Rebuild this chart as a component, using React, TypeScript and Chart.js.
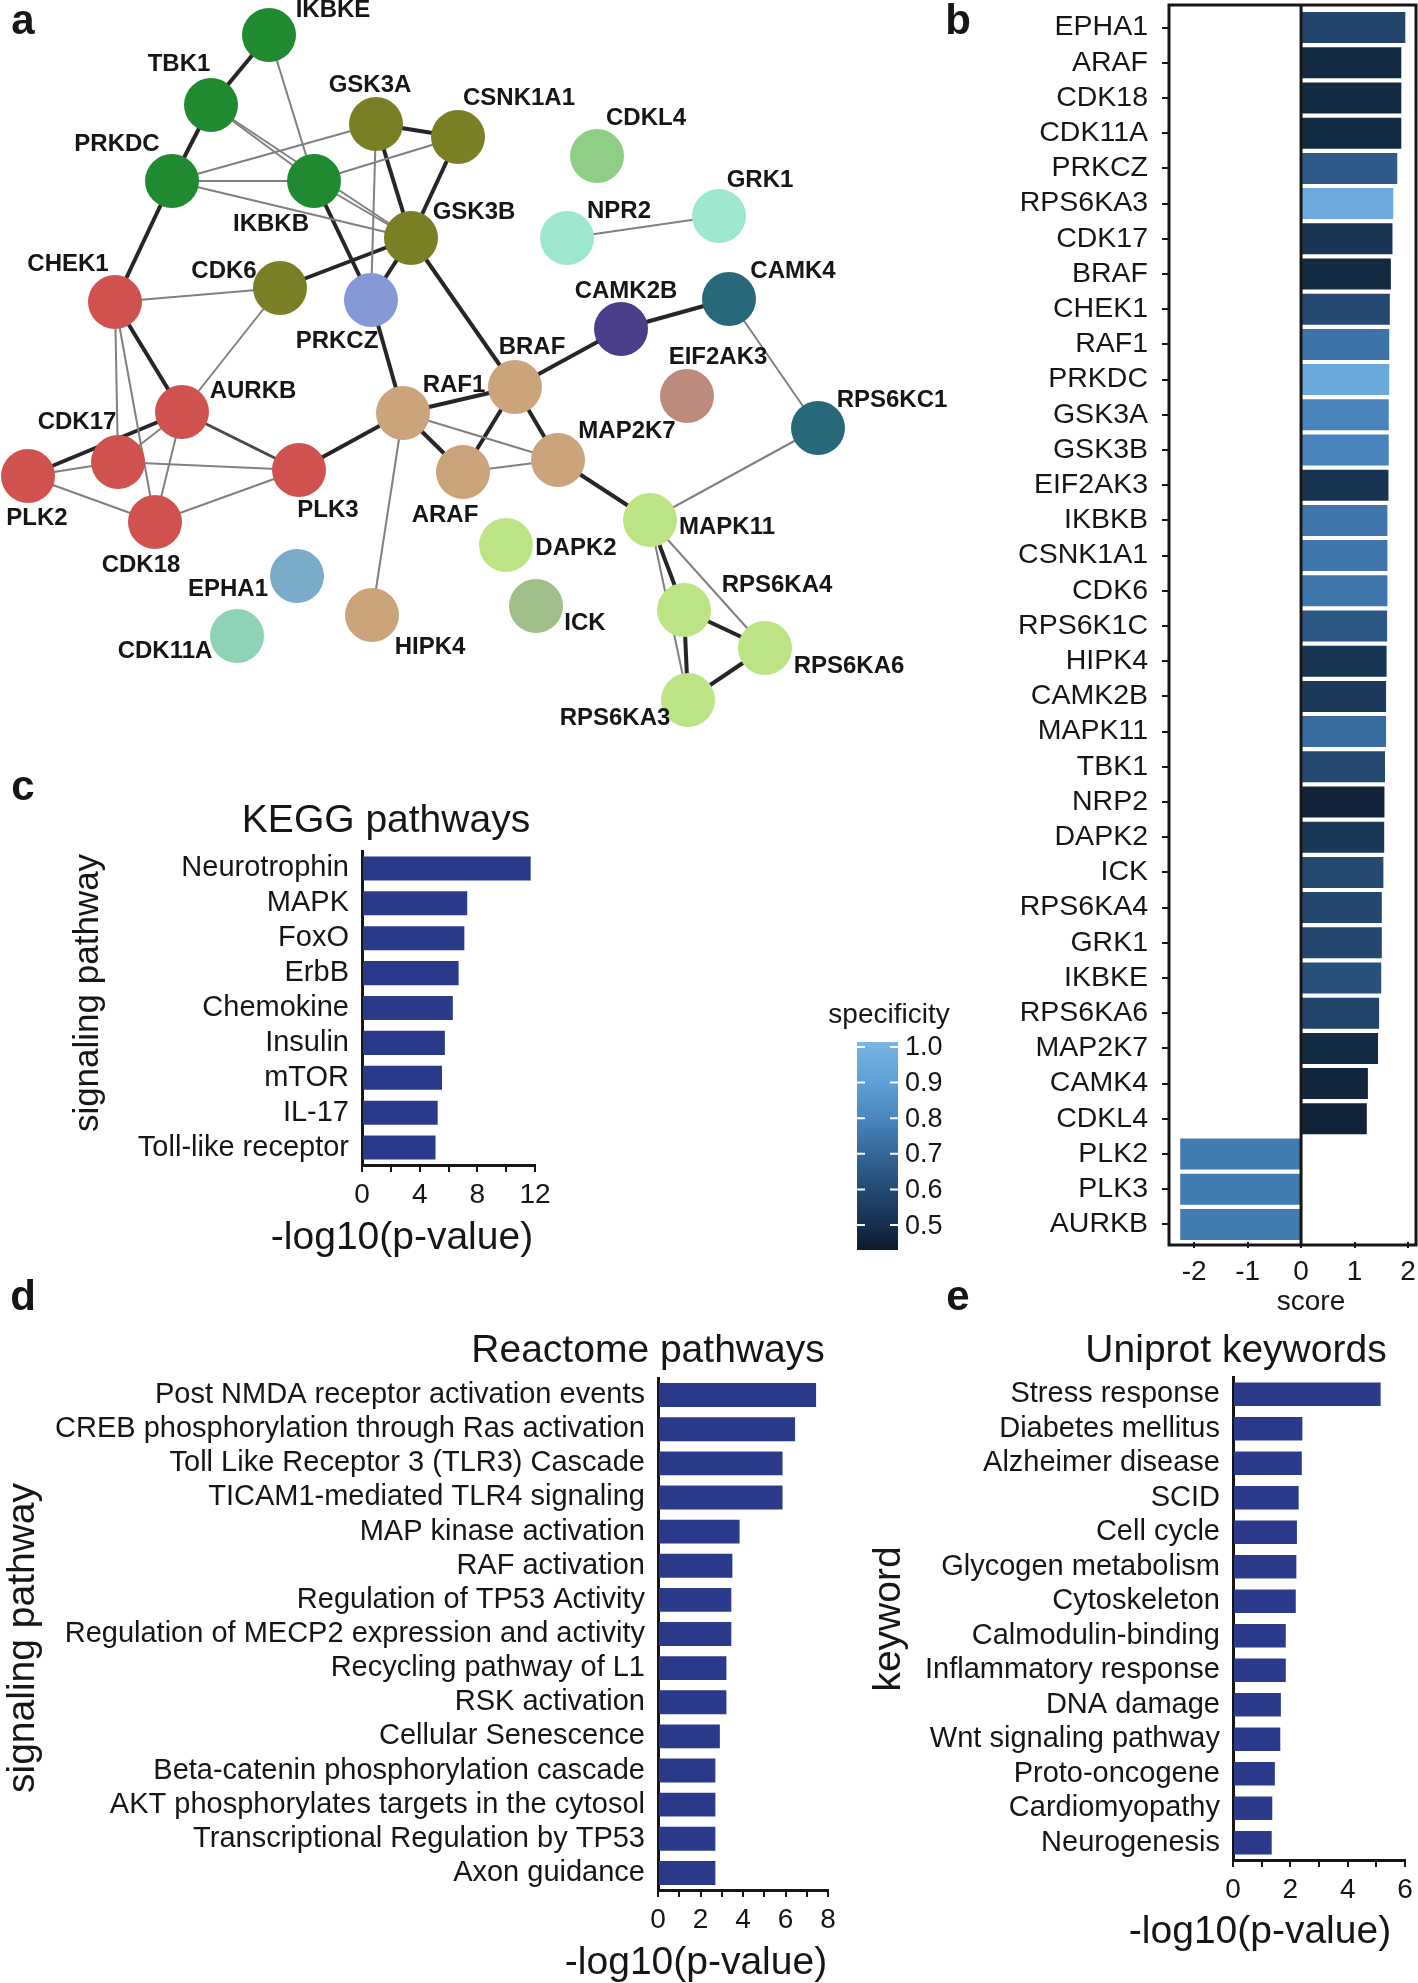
import React, { useEffect, useRef } from 'react';
import { Chart, registerables } from 'chart.js';

Chart.register(...registerables);

const FONT = "'Liberation Sans', Arial, Helvetica, sans-serif";
const INK = '#161616';
const BAR_BLUE = '#2c3a8c';

// ---------------- Panel a: network ----------------
const nodeNames = ['IKBKE', 'TBK1', 'PRKDC', 'IKBKB', 'GSK3A', 'CSNK1A1', 'GSK3B', 'CDK6', 'PRKCZ', 'CHEK1', 'AURKB', 'CDK17', 'PLK2', 'CDK18', 'PLK3', 'RAF1', 'BRAF', 'ARAF', 'MAP2K7', 'CAMK2B', 'CAMK4', 'EIF2AK3', 'RPS6KC1', 'MAPK11', 'DAPK2', 'ICK', 'EPHA1', 'CDK11A', 'HIPK4', 'RPS6KA4', 'RPS6KA6', 'RPS6KA3', 'CDKL4', 'NPR2', 'GRK1'];
const nodeX = [269, 211, 172, 314, 376, 458, 411, 280, 371, 115, 182, 118, 28, 155, 299, 403, 515, 463, 558, 621, 729, 687, 818, 650, 506, 536, 297, 237, 372, 684, 765, 688, 597, 567, 719];
const nodeY = [35, 105, 181, 181, 124, 137, 238, 288, 300, 302, 412, 462, 476, 522, 470, 413, 387, 472, 460, 329, 299, 396, 428, 520, 545, 606, 576, 636, 615, 610, 648, 700, 156, 238, 216];
const G = '#1f8a30', O = '#7a7f25', R = '#d0524e', T = '#cca47b', LG = '#bce485';
const nodeColors = [G, G, G, G, O, O, O, O, '#8698d6', R, R, R, R, R, R, T, T, T, T, '#4c3d8b', '#27687a', '#bc8b7e', '#27687a', LG, LG, '#9fbe88', '#7aabc8', '#8fd3b6', T, LG, LG, LG, '#8ecf85', '#9de6d0', '#9de6d0'];
const labelX = [333, 179, 117, 271, 370, 519, 474, 224, 337, 68, 253, 77, 37, 141, 328, 454, 532, 445, 627, 626, 793, 718, 892, 727, 576, 585, 228, 165, 430, 777, 849, 615, 646, 619, 760];
const labelY = [10, 64, 144, 224, 85, 98, 212, 271, 341, 264, 391, 422, 518, 565, 510, 385, 347, 515, 431, 291, 271, 357, 400, 527, 548, 623, 589, 651, 647, 585, 666, 718, 118, 211, 180];
const strongEdges: [string, string][] = [
  ['IKBKE', 'TBK1'], ['TBK1', 'PRKDC'], ['PRKDC', 'CHEK1'], ['CHEK1', 'AURKB'], ['AURKB', 'PLK2'],
  ['GSK3A', 'CSNK1A1'], ['GSK3A', 'GSK3B'], ['CSNK1A1', 'GSK3B'], ['GSK3B', 'CDK6'], ['GSK3B', 'PRKCZ'],
  ['IKBKB', 'PRKCZ'], ['PRKCZ', 'RAF1'], ['GSK3B', 'BRAF'], ['RAF1', 'BRAF'], ['BRAF', 'CAMK2B'],
  ['CAMK2B', 'CAMK4'], ['RAF1', 'PLK3'], ['RAF1', 'ARAF'], ['BRAF', 'ARAF'], ['BRAF', 'MAP2K7'],
  ['MAP2K7', 'MAPK11'], ['MAPK11', 'RPS6KA4'], ['RPS6KA4', 'RPS6KA6'], ['RPS6KA4', 'RPS6KA3'], ['RPS6KA6', 'RPS6KA3'],
];
const mediumEdges: [string, string][] = [['AURKB', 'PLK3']];
const weakEdges: [string, string][] = [
  ['IKBKE', 'IKBKB'], ['TBK1', 'IKBKB'], ['TBK1', 'GSK3B'], ['PRKDC', 'GSK3A'], ['PRKDC', 'IKBKB'],
  ['PRKDC', 'GSK3B'], ['IKBKB', 'CSNK1A1'], ['IKBKB', 'GSK3B'], ['GSK3A', 'PRKCZ'], ['CHEK1', 'CDK6'],
  ['CDK6', 'AURKB'], ['CHEK1', 'CDK17'], ['CHEK1', 'CDK18'], ['AURKB', 'CDK17'], ['AURKB', 'CDK18'],
  ['CDK17', 'PLK3'], ['PLK2', 'CDK17'], ['PLK2', 'CDK18'], ['CDK18', 'PLK3'], ['RAF1', 'MAP2K7'],
  ['ARAF', 'MAP2K7'], ['RAF1', 'HIPK4'], ['CAMK4', 'RPS6KC1'], ['RPS6KC1', 'MAPK11'], ['NPR2', 'GRK1'],
  ['MAPK11', 'RPS6KA6'], ['MAPK11', 'RPS6KA3'],
];

// ---------------- Panel b: scores ----------------
const geneLabels = ['EPHA1', 'ARAF', 'CDK18', 'CDK11A', 'PRKCZ', 'RPS6KA3', 'CDK17', 'BRAF', 'CHEK1', 'RAF1', 'PRKDC', 'GSK3A', 'GSK3B', 'EIF2AK3', 'IKBKB', 'CSNK1A1', 'CDK6', 'RPS6K1C', 'HIPK4', 'CAMK2B', 'MAPK11', 'TBK1', 'NRP2', 'DAPK2', 'ICK', 'RPS6KA4', 'GRK1', 'IKBKE', 'RPS6KA6', 'MAP2K7', 'CAMK4', 'CDKL4', 'PLK2', 'PLK3', 'AURKB'];
const geneScores = [1.95, 1.875, 1.875, 1.875, 1.80, 1.725, 1.71, 1.68, 1.66, 1.65, 1.65, 1.64, 1.64, 1.635, 1.615, 1.615, 1.615, 1.61, 1.60, 1.59, 1.59, 1.57, 1.56, 1.555, 1.54, 1.51, 1.51, 1.50, 1.46, 1.44, 1.25, 1.23, -2.26, -2.26, -2.26];
const geneSpecificity = [0.58, 0.48, 0.48, 0.48, 0.66, 0.96, 0.52, 0.48, 0.60, 0.74, 0.95, 0.79, 0.79, 0.51, 0.75, 0.75, 0.75, 0.65, 0.52, 0.54, 0.72, 0.60, 0.46, 0.53, 0.60, 0.59, 0.59, 0.62, 0.58, 0.48, 0.465, 0.46, 0.77, 0.77, 0.77];
const scoreTicks = [-2, -1, 0, 1, 2];
const specTicks = [0.5, 0.6, 0.7, 0.8, 0.9, 1.0];

// ---------------- Panel c: KEGG ----------------
const keggLabels = ['Neurotrophin', 'MAPK', 'FoxO', 'ErbB', 'Chemokine', 'Insulin', 'mTOR', 'IL-17', 'Toll-like receptor'];
const keggValues = [11.7, 7.3, 7.1, 6.7, 6.3, 5.75, 5.55, 5.25, 5.1];
const keggTickMarks = [0, 2, 4, 6, 8, 10, 12];
const keggTickLabels = [0, 4, 8, 12];

// ---------------- Panel d: Reactome ----------------
const reactomeLabels = ['Post NMDA receptor activation events', 'CREB phosphorylation through Ras activation', 'Toll Like Receptor 3 (TLR3) Cascade', 'TICAM1-mediated TLR4 signaling', 'MAP kinase activation', 'RAF activation', 'Regulation of TP53 Activity', 'Regulation of MECP2 expression and activity', 'Recycling pathway of L1', 'RSK activation', 'Cellular Senescence', 'Beta-catenin phosphorylation cascade', 'AKT phosphorylates targets in the cytosol', 'Transcriptional Regulation by TP53', 'Axon guidance'];
const reactomeValues = [7.44, 6.45, 5.86, 5.86, 3.84, 3.5, 3.45, 3.45, 3.22, 3.22, 2.91, 2.7, 2.7, 2.7, 2.7];
const reactomeTickMarks = [0, 1, 2, 3, 4, 5, 6, 7, 8];
const reactomeTickLabels = [0, 2, 4, 6, 8];

// ---------------- Panel e: Uniprot ----------------
const uniprotLabels = ['Stress response', 'Diabetes mellitus', 'Alzheimer disease', 'SCID', 'Cell cycle', 'Glycogen metabolism', 'Cytoskeleton', 'Calmodulin-binding', 'Inflammatory response', 'DNA damage', 'Wnt signaling pathway', 'Proto-oncogene', 'Cardiomyopathy', 'Neurogenesis'];
const uniprotValues = [5.15, 2.42, 2.40, 2.29, 2.23, 2.21, 2.19, 1.84, 1.84, 1.67, 1.65, 1.46, 1.37, 1.35];
const uniprotTickMarks = [0, 1, 2, 3, 4, 5, 6];
const uniprotTickLabels = [0, 2, 4, 6];

// ---------------- helpers ----------------
const specStops: [number, number[]][] = [
  [0.43, [12, 26, 42]], [0.5, [22, 48, 77]], [0.6, [36, 74, 114]], [0.7, [52, 102, 152]],
  [0.8, [74, 134, 191]], [0.9, [93, 159, 214]], [1.0, [118, 178, 226]], [1.02, [126, 186, 231]],
];
function specColor(v: number): string {
  for (let i = 0; i < specStops.length - 1; i++) {
    const [a, ca] = specStops[i];
    const [b, cb] = specStops[i + 1];
    if (v <= b || i === specStops.length - 2) {
      const t = Math.max(0, Math.min(1, (v - a) / (b - a)));
      const c = ca.map((x, k) => Math.round(x + (cb[k] - x) * t));
      return `rgb(${c[0]},${c[1]},${c[2]})`;
    }
  }
  return '#000';
}

type TextItem = { text: string; x: number; y: number; size: number; bold?: boolean; rotate?: number; align?: CanvasTextAlign };
function textPlugin(items: TextItem[]) {
  return {
    id: 'panelTexts',
    afterDraw(chart: any) {
      const ctx = chart.ctx as CanvasRenderingContext2D;
      items.forEach((it) => {
        ctx.save();
        ctx.font = `${it.bold ? 'bold ' : ''}${it.size}px ${FONT}`;
        ctx.fillStyle = INK;
        ctx.textAlign = it.align || 'center';
        ctx.textBaseline = 'middle';
        ctx.translate(it.x, it.y);
        if (it.rotate) ctx.rotate(it.rotate);
        ctx.fillText(it.text, 0, 0);
        ctx.restore();
      });
    },
  };
}

const idx = (n: string) => nodeNames.indexOf(n);
function edgeDataset(e: [string, string], color: string, width: number) {
  const a = idx(e[0]);
  const b = idx(e[1]);
  return {
    data: [{ x: nodeX[a], y: nodeY[a] }, { x: nodeX[b], y: nodeY[b] }],
    showLine: true,
    borderColor: color,
    borderWidth: width,
    pointRadius: 0,
    pointHoverRadius: 0,
    order: 2,
  };
}

const networkLabelPlugin = {
  id: 'networkLabels',
  afterDatasetsDraw(chart: any) {
    const { ctx, scales } = chart;
    ctx.save();
    ctx.font = `bold 24px ${FONT}`;
    ctx.fillStyle = INK;
    ctx.textAlign = 'center';
    ctx.textBaseline = 'middle';
    nodeNames.forEach((n, i) => {
      ctx.fillText(n, scales.x.getPixelForValue(labelX[i]), scales.y.getPixelForValue(labelY[i]));
    });
    ctx.restore();
  },
};

function networkConfig(W: number, H: number): any {
  return {
    type: 'scatter',
    data: {
      datasets: [
        ...weakEdges.map((e) => edgeDataset(e, '#808080', 2)),
        ...mediumEdges.map((e) => edgeDataset(e, '#4a4a4a', 3)),
        ...strongEdges.map((e) => edgeDataset(e, '#262626', 4)),
        {
          data: nodeX.map((x, i) => ({ x, y: nodeY[i] })),
          pointRadius: 27,
          pointHoverRadius: 27,
          pointBackgroundColor: nodeColors,
          pointBorderWidth: 0,
          order: 1,
          clip: false,
        },
      ],
    },
    options: {
      responsive: false,
      animation: false,
      devicePixelRatio: 1,
      layout: { padding: 0, autoPadding: false },
      plugins: { legend: { display: false }, tooltip: { enabled: false } },
      scales: {
        x: { type: 'linear', min: 0, max: W, display: false },
        y: { type: 'linear', min: 0, max: H, reverse: true, display: false },
      },
    },
    plugins: [networkLabelPlugin, textPlugin([{ text: 'a', x: 23, y: 22, size: 42, bold: true }])],
  };
}

function zeroPadX(s: any) {
  s.paddingLeft = 0;
  s.paddingRight = 0;
}
function zeroPadY(s: any) {
  s.paddingTop = 0;
  s.paddingBottom = 0;
}

const boxPlugin = {
  id: 'scoreBox',
  afterDraw(chart: any) {
    const { ctx, chartArea, scales } = chart;
    const top = 5;
    const bottom = chartArea.bottom + 3;
    ctx.save();
    ctx.strokeStyle = INK;
    ctx.lineWidth = 3;
    ctx.strokeRect(chartArea.left, top, chartArea.right - chartArea.left, bottom - top);
    const x0 = scales.x.getPixelForValue(0);
    ctx.beginPath();
    ctx.moveTo(x0, top);
    ctx.lineTo(x0, bottom);
    ctx.stroke();
    ctx.restore();
  },
};

function scoreConfig(W: number, H: number): any {
  const area = { l: 229, r: 476, t: 10, b: 1242 };
  return {
    type: 'bar',
    data: {
      labels: geneLabels,
      datasets: [{
        data: geneScores,
        backgroundColor: geneSpecificity.map(specColor),
        borderWidth: 0,
        barPercentage: 0.88,
        categoryPercentage: 1,
      }],
    },
    options: {
      indexAxis: 'y',
      responsive: false,
      animation: false,
      devicePixelRatio: 1,
      layout: { padding: { left: 0, right: W - area.r, top: area.t, bottom: 0 } },
      plugins: { legend: { display: false }, tooltip: { enabled: false } },
      scales: {
        x: {
          type: 'linear', min: -2.47, max: 2.15,
          afterBuildTicks: (s: any) => { s.ticks = scoreTicks.map((v) => ({ value: v })); },
          ticks: { autoSkip: false, maxRotation: 0, padding: 7, color: INK, font: { family: FONT, size: 28 } },
          grid: { display: true, drawOnChartArea: false, drawTicks: true, tickLength: 6, lineWidth: 2, color: INK },
          border: { display: false },
          afterFit: (s: any) => { s.height = H - area.b; zeroPadX(s); },
        },
        y: {
          ticks: { autoSkip: false, padding: 14, color: INK, font: { family: FONT, size: 28.5 } },
          grid: { display: true, offset: false, drawOnChartArea: false, drawTicks: true, tickLength: 7, lineWidth: 2, color: INK },
          border: { display: false },
          afterFit: (s: any) => { s.width = area.l; zeroPadY(s); },
        },
      },
    },
    plugins: [boxPlugin, textPlugin([
      { text: 'b', x: 18, y: 22, size: 42, bold: true },
      { text: 'e', x: 18, y: 1298, size: 42, bold: true },
      { text: 'score', x: 371, y: 1302, size: 28 },
    ])],
  };
}

function colorbarPlugin(x0: number, x1: number, yTop: number, yBot: number, vTop: number, vBot: number) {
  return {
    id: 'specColorbar',
    afterDraw(chart: any) {
      const ctx = chart.ctx as CanvasRenderingContext2D;
      const yOf = (v: number) => yBot - ((v - vBot) / (vTop - vBot)) * (yBot - yTop);
      ctx.save();
      const grad = ctx.createLinearGradient(0, yBot, 0, yTop);
      specStops.forEach(([v]) => {
        const t = (v - vBot) / (vTop - vBot);
        if (t >= 0 && t <= 1) grad.addColorStop(t, specColor(v));
      });
      grad.addColorStop(0, specColor(vBot));
      grad.addColorStop(1, specColor(vTop));
      ctx.fillStyle = grad;
      ctx.fillRect(x0, yTop, x1 - x0, yBot - yTop);
      ctx.strokeStyle = '#ffffff';
      ctx.lineWidth = 2;
      ctx.font = `27px ${FONT}`;
      ctx.fillStyle = INK;
      ctx.textAlign = 'left';
      ctx.textBaseline = 'middle';
      specTicks.forEach((v) => {
        const y = yOf(v);
        ctx.beginPath();
        ctx.moveTo(x0, y); ctx.lineTo(x0 + 8, y);
        ctx.moveTo(x1 - 8, y); ctx.lineTo(x1, y);
        ctx.stroke();
        ctx.fillText(v.toFixed(1), x1 + 7, y + 1);
      });
      ctx.restore();
    },
  };
}

function enrichmentConfig(
  labels: string[], values: number[], xMax: number, tickMarks: number[], tickLabels: number[],
  labelSize: number, W: number, H: number, area: { l: number; r: number; t: number; b: number },
  barPct: number, texts: TextItem[], extra: any[] = [],
): any {
  return {
    type: 'bar',
    data: {
      labels,
      datasets: [{ data: values, backgroundColor: BAR_BLUE, borderWidth: 0, barPercentage: barPct, categoryPercentage: 1 }],
    },
    options: {
      indexAxis: 'y',
      responsive: false,
      animation: false,
      devicePixelRatio: 1,
      layout: { padding: { left: 0, right: W - area.r, top: area.t, bottom: 0 } },
      plugins: { legend: { display: false }, tooltip: { enabled: false } },
      scales: {
        x: {
          type: 'linear', min: 0, max: xMax,
          afterBuildTicks: (s: any) => { s.ticks = tickMarks.map((v) => ({ value: v })); },
          ticks: {
            autoSkip: false, maxRotation: 0, padding: 6, color: INK, font: { family: FONT, size: 28 },
            callback: (v: any) => (tickLabels.includes(Number(v)) ? String(v) : ''),
          },
          grid: { display: true, drawOnChartArea: false, drawTicks: true, tickLength: 7, lineWidth: 2, color: INK },
          border: { display: true, width: 3, color: INK },
          afterFit: (s: any) => { s.height = H - area.b; zeroPadX(s); },
        },
        y: {
          ticks: { autoSkip: false, padding: 13, color: INK, font: { family: FONT, size: labelSize } },
          grid: { display: true, drawOnChartArea: false, drawTicks: false, color: 'rgba(0,0,0,0)' },
          border: { display: true, width: 3, color: INK },
          afterFit: (s: any) => { s.width = area.l; zeroPadY(s); },
        },
      },
    },
    plugins: [textPlugin(texts), ...extra],
  };
}

const HALF = -Math.PI / 2;

function ChartBox(props: { left: number; top: number; width: number; height: number; make: (w: number, h: number) => any }) {
  const ref = useRef<HTMLCanvasElement | null>(null);
  const { left, top, width, height, make } = props;
  useEffect(() => {
    if (!ref.current) return;
    const chart = new Chart(ref.current, make(width, height));
    return () => chart.destroy();
  }, []);
  return (
    <canvas
      ref={ref}
      width={width}
      height={height}
      style={{ position: 'absolute', left, top, width, height }}
    />
  );
}

export default function App() {
  return (
    <div style={{ position: 'absolute', left: 0, top: 0, width: 1418, height: 1983, background: '#ffffff', overflow: 'hidden' }}>
      <ChartBox left={0} top={0} width={1000} height={760} make={(w, h) => networkConfig(w, h)} />
      <ChartBox
        left={0} top={760} width={990} height={560}
        make={(w, h) => enrichmentConfig(
          keggLabels, keggValues, 12, keggTickMarks, keggTickLabels, 29, w, h,
          { l: 362, r: 535, t: 91, b: 405 }, 0.69,
          [
            { text: 'c', x: 23, y: 28, size: 42, bold: true },
            { text: 'd', x: 23, y: 538, size: 42, bold: true },
            { text: 'KEGG pathways', x: 386, y: 61, size: 39 },
            { text: '-log10(p-value)', x: 402, y: 478, size: 39 },
            { text: 'signaling pathway', x: 88, y: 233, size: 35, rotate: HALF },
            { text: 'specificity', x: 889, y: 255, size: 28 },
          ],
          [colorbarPlugin(857, 898, 282, 490, 1.014, 0.43)],
        )}
      />
      <ChartBox left={940} top={0} width={478} height={1330} make={(w, h) => scoreConfig(w, h)} />
      <ChartBox
        left={0} top={1320} width={850} height={663}
        make={(w, h) => enrichmentConfig(
          reactomeLabels, reactomeValues, 8, reactomeTickMarks, reactomeTickLabels, 29, w, h,
          { l: 658, r: 828, t: 58, b: 570 }, 0.7,
          [
            { text: 'Reactome pathways', x: 648, y: 31, size: 39 },
            { text: '-log10(p-value)', x: 696, y: 643, size: 39 },
            { text: 'signaling pathway', x: 23, y: 318, size: 39, rotate: HALF },
          ],
        )}
      />
      <ChartBox
        left={850} top={1320} width={568} height={663}
        make={(w, h) => enrichmentConfig(
          uniprotLabels, uniprotValues, 6, uniprotTickMarks, uniprotTickLabels, 29, w, h,
          { l: 383, r: 555, t: 57, b: 540 }, 0.68,
          [
            { text: 'Uniprot keywords', x: 386, y: 31, size: 39 },
            { text: '-log10(p-value)', x: 410, y: 612, size: 39 },
            { text: 'keyword', x: 39, y: 299, size: 39, rotate: HALF },
          ],
        )}
      />
    </div>
  );
}
